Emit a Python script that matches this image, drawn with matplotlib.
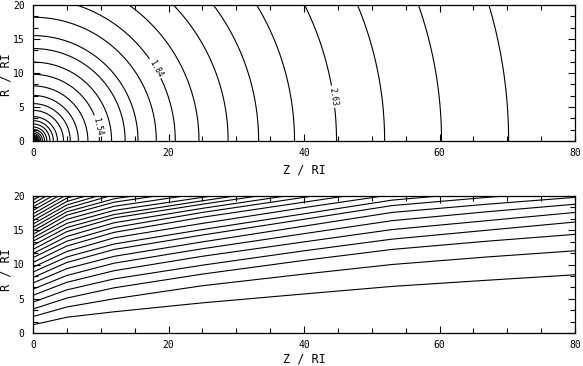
import matplotlib
matplotlib.use('Agg')
import matplotlib.pyplot as plt
import numpy as np
from matplotlib.ticker import MultipleLocator, AutoMinorLocator

plt.rcParams['font.family'] = ['DejaVu Sans Mono']

# ---- data ----
# top panel: radii (in RI) at which the equipotential circles cross the axes
POT_RADII = [0.3, 0.38, 0.47, 0.57, 0.68, 0.8, 0.95, 1.15, 1.4, 1.7, 2.05, 2.5,
             3.0, 3.6, 4.5, 5.5, 6.7, 8.1, 9.8, 11.6, 13.6, 15.5, 18.2, 21.0,
             24.5, 28.8, 33.3, 38.6, 44.8, 51.9, 60.3, 70.2]
LABEL_TEXT = {9.8: '1.54', 21.0: '1.84', 44.8: '2.63'}
LABEL_POS = [(9.6, 2.2), (18.3, 10.8), (44.2, 6.5)]

# bottom panel: field lines, R / RI read at these Z / RI positions
Z_SAMPLES = [0, 5, 12, 25, 40, 53, 67, 80]
FIELD_LINES = [
    [1.2, 2.3, 3.1, 4.4, 5.7, 6.8, 7.7, 8.5],
    [2.4, 3.8, 5.0, 6.9, 8.6, 10.0, 11.1, 12.0],
    [3.5, 5.1, 6.6, 8.6, 10.6, 12.2, 13.4, 14.4],
    [4.5, 6.3, 7.9, 9.9, 12.0, 13.7, 15.0, 16.2],
    [5.5, 7.4, 9.1, 11.2, 13.3, 15.1, 16.4, 17.6],
    [6.4, 8.4, 10.2, 12.3, 14.5, 16.4, 17.7, 18.8],
    [7.3, 9.4, 11.2, 13.3, 15.6, 17.6, 18.8, 19.8],
    [8.1, 10.3, 12.2, 14.3, 16.6, 18.6, 19.8, 20.8],
    [8.9, 11.1, 13.0, 15.1, 17.4, 19.4, 20.6],
    [9.6, 11.9, 13.9, 16.0, 18.3, 20.2],
    [10.3, 12.7, 14.7, 16.9, 19.1, 21.0],
    [11.0, 13.4, 15.4, 17.6, 19.8, 21.7],
    [11.6, 14.1, 16.1, 18.2, 20.4],
    [12.2, 14.8, 16.8, 18.8, 21.0],
    [12.8, 15.4, 17.3, 19.3, 21.5],
    [13.4, 16.0, 17.9, 19.8, 22.0],
    [13.9, 16.6, 18.5, 20.4],
    [14.4, 17.2, 19.1, 21.0],
    [14.9, 17.7, 19.6, 21.5],
    [15.4, 18.2, 20.2],
    [15.9, 18.7, 20.7],
    [16.4, 19.2, 21.2],
    [16.9, 19.7, 21.7],
    [17.4, 20.2],
    [17.9, 20.7],
    [18.4, 21.2],
    [18.9, 21.7],
    [19.4, 22.2],
]

X_TICKS = [0, 20, 40, 60, 80]
Y_TICKS = [0, 5, 10, 15, 20]
X_LABEL = 'Z / RI'
Y_LABEL = 'R / RI'

W, H = 583, 366
fig = plt.figure(figsize=(W / 100, H / 100), dpi=100)


def px_axes(left, top, right, bottom):
    return fig.add_axes([left / W, 1 - bottom / H, (right - left) / W, (bottom - top) / H])


ax1 = px_axes(33, 5, 575, 141)
ax2 = px_axes(33, 196, 575, 333)

# top: equipotentials
zz = np.linspace(0, 80, 1201)
rr = np.linspace(0, 20, 401)
ZG, RG = np.meshgrid(zz, rr)
DIST = np.hypot(ZG, RG)
plain = sorted(r for r in POT_RADII if r not in LABEL_TEXT)
ax1.contour(ZG, RG, DIST, levels=plain, colors='k', linewidths=0.8)
cs_lab = ax1.contour(ZG, RG, DIST, levels=sorted(LABEL_TEXT), colors='k', linewidths=0.8)
ax1.clabel(cs_lab, fmt=LABEL_TEXT, manual=LABEL_POS,
           fontsize=5.5, inline=True, inline_spacing=2)

# bottom: field lines
for line in FIELD_LINES:
    ax2.plot(Z_SAMPLES[:len(line)], line, color='k', lw=0.8)

for ax in (ax1, ax2):
    ax.set_xlim(0, 80)
    ax.set_ylim(0, 20)
    ax.set_xticks(X_TICKS)
    ax.set_yticks(Y_TICKS)
    ax.xaxis.set_minor_locator(MultipleLocator(5))
    ax.yaxis.set_minor_locator(AutoMinorLocator(3))
    ax.tick_params(which='both', direction='in', top=True, right=True, width=0.8)
    ax.tick_params(which='major', length=5, labelsize=7)
    ax.tick_params(axis='x', which='major', pad=5)
    ax.tick_params(axis='y', which='major', pad=6)
    ax.tick_params(which='minor', length=3.5)
    for s in ax.spines.values():
        s.set_linewidth(0.9)
    ax.set_xlabel(X_LABEL, fontsize=8.5)
    ax.set_ylabel(Y_LABEL, fontsize=8.5)

ax1.xaxis.set_label_coords(0.5, -0.165)
ax2.xaxis.set_label_coords(0.5, -0.145)
ax1.yaxis.set_label_coords(-0.037, 0.485)
ax2.yaxis.set_label_coords(-0.037, 0.46)

fig.savefig('out.png', dpi=100)
